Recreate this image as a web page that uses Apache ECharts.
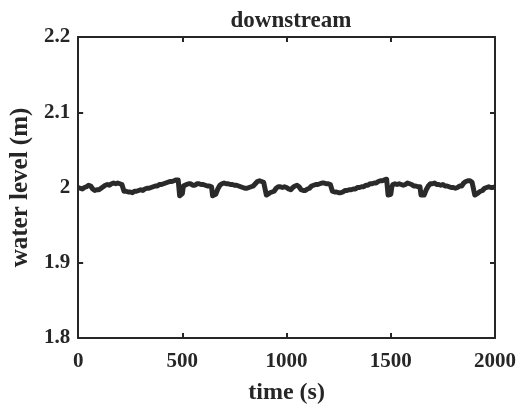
<!DOCTYPE html>
<html>
<head>
<meta charset="utf-8">
<script src="https://cdn.jsdelivr.net/npm/echarts@6/dist/echarts.min.js"></script>
<style>html,body{margin:0;padding:0;background:#fff}#c{width:519px;height:411px}</style>
</head>
<body>
<div id="c"></div>
<script>
var chartTitle = 'downstream';
var xName = 'time (s)';
var yName = 'water level (m)';
var xTicks = [0, 500, 1000, 1500, 2000];
var yTicks = [1.8, 1.9, 2.0, 2.1, 2.2];
var times = [0,10,20,30,40,50,60,70,80,90,100,110,120,130,140,150,160,170,180,190,200,210,220,230,240,250,260,270,280,290,300,310,320,330,340,350,360,370,380,390,400,410,420,430,440,450,460,470,480,487,490,500,505,510,520,530,540,550,560,570,580,590,600,610,620,630,640,645,650,660,670,680,690,700,710,720,730,740,750,760,770,780,790,800,810,820,830,840,850,860,870,880,890,897,903,910,920,930,940,950,960,970,980,990,
1000,1010,1020,1030,1040,1050,1060,1070,1080,1090,1100,1110,1120,1130,1140,1150,1160,1170,1180,1190,1200,1210,1220,1230,1240,1250,1260,1270,1280,1290,1300,1310,1320,1330,1340,1350,1360,1370,1380,1390,1400,1410,1420,1430,1440,1450,1460,1470,1480,1487,1490,1500,1505,1510,1520,1530,1540,1550,1560,1570,1580,1590,1600,1610,1620,1630,1640,1645,1650,1660,1670,1680,1690,1700,1710,1720,1730,1740,1750,1760,1770,1780,1790,1800,1810,1820,1830,1840,1850,1860,1870,1880,1890,1897,1903,1910,1920,1930,1940,1950,1960,1970,1980,1990,2000];
var levels = [2.000,1.999,1.998,2.000,2.001,2.003,2.002,1.998,1.996,1.997,1.997,1.999,2.001,2.003,2.004,2.003,2.005,2.006,2.005,2.006,2.005,2.004,1.995,1.995,1.994,1.994,1.993,1.995,1.995,1.996,1.997,1.996,1.998,1.999,1.999,2.000,2.001,2.002,2.002,2.004,2.004,2.005,2.006,2.007,2.008,2.008,2.009,2.010,2.010,1.989,1.990,1.992,2.002,2.004,2.004,2.005,2.005,2.003,2.003,2.005,2.005,2.004,2.004,2.003,2.002,2.002,2.001,1.989,1.988,1.991,1.998,2.003,2.005,2.006,2.005,2.005,2.004,2.004,2.003,2.003,2.002,2.001,2.000,1.999,1.999,2.000,2.001,2.002,2.005,2.008,2.009,2.008,2.007,2.007,1.990,1.991,1.993,1.994,1.995,1.999,2.001,2.001,2.000,2.001,
2.000,1.998,1.997,2.000,2.002,2.003,2.001,1.997,1.996,1.996,1.998,1.999,2.002,2.003,2.004,2.004,2.005,2.006,2.006,2.005,2.005,2.004,1.995,1.994,1.994,1.993,1.993,1.994,1.996,1.996,1.997,1.997,1.998,1.998,2.000,2.000,2.001,2.001,2.003,2.003,2.005,2.005,2.006,2.006,2.008,2.009,2.009,2.010,2.011,1.990,1.989,1.991,2.001,2.004,2.005,2.004,2.005,2.004,2.003,2.004,2.006,2.005,2.004,2.002,2.002,2.001,2.001,1.990,1.989,1.990,1.997,2.002,2.005,2.005,2.006,2.004,2.004,2.003,2.004,2.002,2.002,2.001,2.000,2.000,1.999,2.000,2.002,2.002,2.006,2.008,2.009,2.009,2.007,2.006,1.990,1.992,1.993,1.995,1.996,1.999,2.000,2.001,2.000,2.000,2.001];

var data = times.map(function(t, i){ return [t, levels[i]]; });
var ink = '#262626';
var font = 'Liberation Serif';
var chart = echarts.init(document.getElementById('c'), null, {renderer:'canvas'});
function axisCommon(){
  return {
    axisLine:{show:true, onZero:false, lineStyle:{color:ink, width:2}},
    axisTick:{show:true, inside:true, length:5, lineStyle:{color:ink, width:2}},
    splitLine:{show:false}
  };
}
chart.setOption({
  animation:false,
  backgroundColor:'#fff',
  title:{text:chartTitle, left:286, textAlign:'center', top:5,
    textStyle:{fontFamily:font, fontWeight:'bold', fontSize:23, color:ink}},
  grid:{left:76, right:23, top:37, bottom:73, containLabel:false},
  xAxis:[
    Object.assign({type:'value', min:xTicks[0], max:xTicks[xTicks.length-1], interval:500, position:'bottom',
      name:xName, nameLocation:'middle', nameGap:43,
      nameTextStyle:{fontFamily:font, fontWeight:'bold', fontSize:24, color:ink},
      axisLabel:{fontFamily:font, fontWeight:'bold', fontSize:21, color:ink, margin:13,
        formatter:function(v){ return String(v); }}}, axisCommon()),
    Object.assign({type:'value', min:xTicks[0], max:xTicks[xTicks.length-1], interval:500, position:'top',
      axisLabel:{show:false}}, axisCommon())
  ],
  yAxis:[
    Object.assign({type:'value', min:yTicks[0], max:yTicks[yTicks.length-1], interval:0.1, position:'left',
      name:yName, nameLocation:'middle', nameGap:39,
      nameTextStyle:{fontFamily:font, fontWeight:'bold', fontSize:25, color:ink},
      axisLabel:{fontFamily:font, fontWeight:'bold', fontSize:21, color:ink, margin:8,
        formatter:function(v){ return String(Math.round(v*10)/10); }}}, axisCommon()),
    Object.assign({type:'value', min:yTicks[0], max:yTicks[yTicks.length-1], interval:0.1, position:'right',
      axisLabel:{show:false}}, axisCommon())
  ],
  series:[{type:'line', data:data, showSymbol:false, symbol:'none',
    lineStyle:{color:'#2a2a2a', width:5, join:'round'}}]
});
</script>
</body>
</html>
